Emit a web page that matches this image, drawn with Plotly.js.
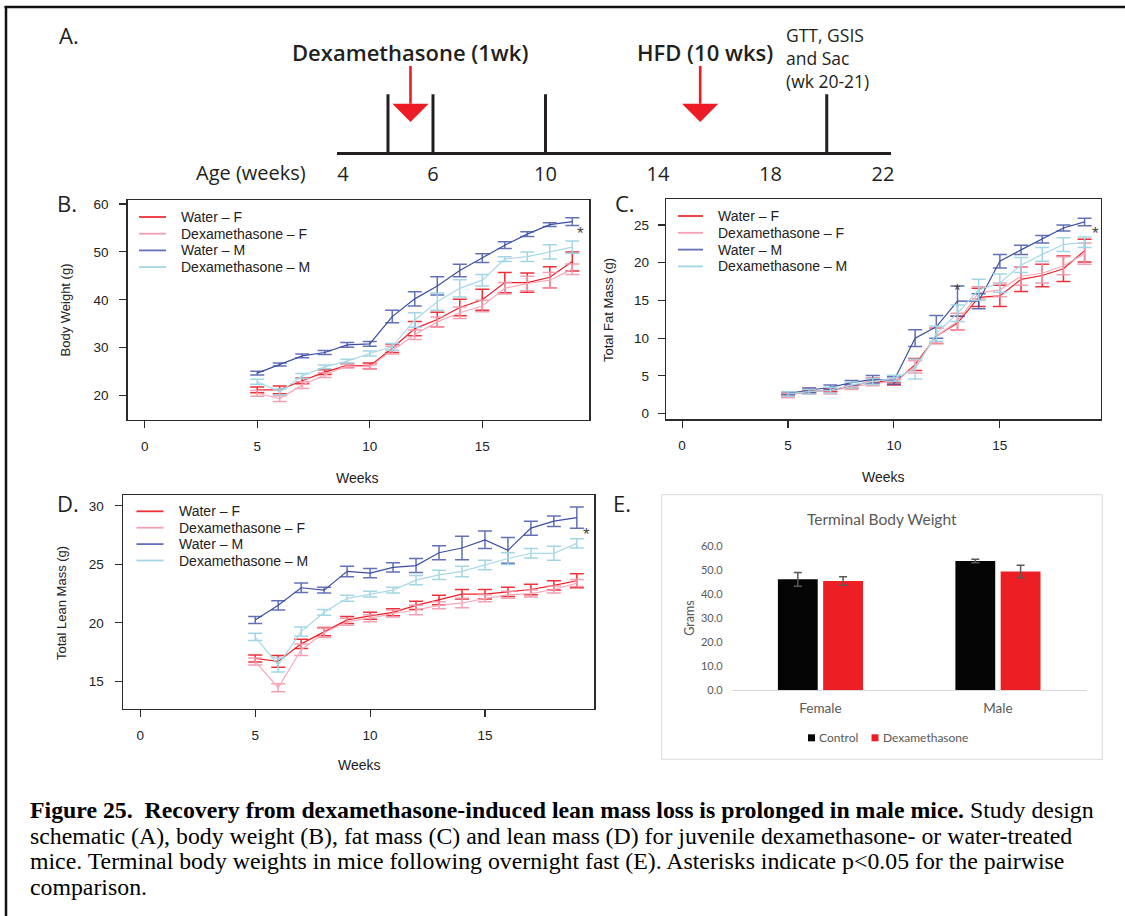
<!DOCTYPE html>
<html><head><meta charset="utf-8">
<script src="https://cdn.plot.ly/plotly-3.0.1.min.js"></script>
<style>html,body{margin:0;padding:0;background:#fff}</style>
</head><body><div id="chart" style="width:1125px;height:916px"></div>
<script>
// ---------------- DATA ----------------
const weeks = [5,6,7,8,9,10,11,12,13,14,15,16,17,18,19];
const seriesNames = ['Water – F','Dexamethasone – F','Water – M','Dexamethasone – M'];

// Panel B: body weight (g)
const bwWaterF    = [21.2,21.2,23.1,24.9,26.3,26.2,29.9,34.0,35.9,38.4,40.0,43.6,43.6,44.7,48.0];
const bwWaterFErr = [0.6,0.8,0.6,0.5,0.4,0.6,0.9,1.5,1.5,1.7,2.2,2.1,2.0,2.2,2.0];
const bwDexF      = [20.5,19.4,22.2,24.3,26.2,26.0,29.5,32.7,35.4,37.3,38.7,42.4,43.4,44.1,46.4];
const bwDexFErr   = [0.6,0.6,0.7,0.5,0.4,0.4,0.8,1.0,1.0,1.2,1.2,1.2,1.5,1.6,1.1];
const bwWaterM    = [24.7,26.5,28.3,29.0,30.6,30.8,36.5,40.2,42.9,46.1,48.7,51.4,53.7,55.7,56.3];
const bwWaterMErr = [0.4,0.3,0.4,0.4,0.5,0.5,1.3,1.5,1.9,1.3,0.9,0.7,0.5,0.4,0.8];
const bwDexM      = [22.9,20.8,24.1,26.0,27.2,28.8,30.2,35.8,39.6,42.4,44.1,48.5,49.0,50.0,51.0];
const bwDexMErr   = [0.5,0.6,0.5,0.4,0.4,0.5,0.7,1.5,1.8,1.8,1.2,0.5,1.0,1.5,1.3];

// Panel C: total fat mass (g)
const fmWaterF    = [2.5,2.9,3.1,3.6,4.4,4.0,6.5,10.3,12.0,15.4,15.6,17.8,18.3,19.2,21.6];
const fmWaterFErr = [0.2,0.2,0.2,0.2,0.3,0.2,0.8,1.0,0.9,1.2,1.4,1.6,1.5,1.7,1.5];
const fmDexF      = [2.4,3.0,3.0,3.5,4.0,4.25,6.2,10.3,12.2,16.0,16.4,18.2,18.6,19.6,21.2];
const fmDexFErr   = [0.3,0.4,0.4,0.3,0.3,0.3,0.8,1.0,1.1,0.8,0.9,1.2,1.3,1.2,1.4];
const fmWaterM    = [2.7,3.1,3.5,4.1,4.55,4.4,10.0,11.5,14.9,14.9,20.2,21.7,23.1,24.6,25.4];
const fmWaterMErr = [0.2,0.3,0.3,0.3,0.5,0.5,1.1,1.5,2.0,1.0,0.9,0.6,0.5,0.4,0.5];
const fmDexM      = [2.6,2.9,3.1,3.8,4.25,4.7,5.9,10.6,13.3,16.4,17.3,19.7,21.1,22.4,22.7];
const fmDexMErr   = [0.3,0.3,0.4,0.4,0.4,0.4,1.3,1.0,1.1,1.4,1.2,1.0,0.9,0.9,0.7];

// Panel D: total lean mass (g)
const lmWaterF    = [16.95,16.7,18.2,19.25,20.25,20.6,20.9,21.5,21.95,22.45,22.45,22.65,22.85,23.2,23.6];
const lmWaterFErr = [0.3,0.5,0.4,0.35,0.3,0.3,0.3,0.35,0.4,0.4,0.4,0.4,0.45,0.4,0.6];
const lmDexF      = [16.7,14.45,17.7,19.15,20.1,20.4,20.8,21.1,21.5,21.7,22.1,22.4,22.5,22.85,23.4];
const lmDexFErr   = [0.3,0.35,0.5,0.4,0.3,0.3,0.3,0.4,0.3,0.4,0.3,0.3,0.3,0.3,0.3];
const lmWaterM    = [20.25,21.5,23.0,22.8,24.4,24.25,24.75,24.9,26.0,26.4,27.1,26.2,28.1,28.7,29.0];
const lmWaterMErr = [0.3,0.4,0.4,0.25,0.45,0.4,0.4,0.6,0.6,1.0,0.75,1.1,0.6,0.45,0.9];
const lmDexM      = [18.8,16.4,19.25,20.9,22.1,22.45,22.8,23.65,24.1,24.4,24.95,25.5,25.95,25.95,26.8];
const lmDexMErr   = [0.3,0.6,0.4,0.25,0.25,0.25,0.25,0.4,0.4,0.45,0.4,0.5,0.4,0.6,0.4];

// Significance asterisks (x = week, y = value)
const bwStarX = [19.35], bwStarY = [53.9];
const fmStarX = [13.0, 19.5], fmStarY = [16.3, 23.9];
const lmStarX = [19.43], lmStarY = [27.6];

// Panel E: terminal body weight
const sexes = ['Female','Male'];
const tbwControl = [46.1, 53.75];
const tbwControlErr = [2.85, 0.7];
const tbwDex = [45.4, 49.4];
const tbwDexErr = [1.8, 2.6];
const barNames = ['Control','Dexamethasone'];

// Panel A: timeline schematic
const ageTickLabels = ['4','6','10','14','18','22'];
const ageTickWeeks = [4,6,10,14,18,22];
const eventWeeks = [5,6,10,20];
const arrowWeeks = [5.5,15.5];
const arrowLabels = ['Dexamethasone (1wk)','HFD (10 wks)'];

// ---------------- LAYOUT HELPERS ----------------
const W = 1125, H = 916;
const px = x => x / W;
const py = y => 1 - y / H;
// schematic (not to scale before week 6)
const tl = w => (w >= 6 ? w : 6 - (6 - w) * 1.6);

const lineColors = ['#ee1d23','#f6a9b9','#3c4fa3','#a9d9e8'];
const errColors  = ['rgba(236,20,28,0.88)','rgba(242,150,170,0.9)','rgba(64,82,166,0.82)','rgba(158,212,228,0.95)'];
const ink = '#231f20';
const rFont = 'Liberation Sans, Arial, sans-serif';
const mFont = 'Open Sans, Noto Sans, sans-serif';

const traces = [];
const shapes = [];
const annotations = [];

function ann(o) { annotations.push(Object.assign({xref:'paper', yref:'paper', showarrow:false}, o)); }

// ---- Panel A ----
const tickXs = [], tickYs = [];
eventWeeks.forEach(w => { tickXs.push(tl(w), tl(w), null); tickYs.push(0, 0.67, null); });
traces.push({type:'scatter', mode:'lines', x:tickXs, y:tickYs, xaxis:'x', yaxis:'y',
  line:{color:ink, width:3}, hoverinfo:'skip', showlegend:false});
const shaftX = [], shaftY = [];
arrowWeeks.forEach(w => { shaftX.push(tl(w), tl(w), null); shaftY.push(0.56, 1.0, null); });
traces.push({type:'scatter', mode:'lines', x:shaftX, y:shaftY, xaxis:'x', yaxis:'y',
  line:{color:'#ed1c24', width:2.6}, hoverinfo:'skip', showlegend:false});
arrowWeeks.forEach((w, i) => {
  const c = tl(w), hw = 0.645;
  shapes.push({type:'path', xref:'x', yref:'y', line:{width:0}, fillcolor:'#ed1c24',
    path:`M${c-hw},0.562 L${c+hw},0.562 L${c},0.35 Z`});
});
ann({text:arrowLabels[0], x:px(410), y:py(52), xanchor:'center', yanchor:'middle',
  font:{family:mFont, size:22, color:ink, weight:600}});
ann({text:arrowLabels[1], x:px(704.5), y:py(52), xanchor:'center', yanchor:'middle',
  font:{family:mFont, size:22, color:ink, weight:600}});
ann({text:'GTT, GSIS<br>and Sac<br>(wk 20-21)', x:px(784), y:py(21), xanchor:'left', yanchor:'top', align:'left',
  font:{family:mFont, size:17.5, color:ink}});
ann({text:'Age (weeks)', x:px(308), y:py(172), xanchor:'right', yanchor:'middle',
  font:{family:mFont, size:20, color:ink}});

// ---- Panel labels ----
[['A.',57,35],['B.',55,203],['C.',613,203],['D.',55,503],['E.',611,503]].forEach(p => {
  ann({text:p[0], x:px(p[1]), y:py(p[2]), xanchor:'left', yanchor:'middle', font:{family:mFont, size:22, color:ink}});
});

// ---- R-style panels ----
const panels = [
  {xa:'x2', ya:'y2', vals:[bwWaterF,bwDexF,bwWaterM,bwDexM], errs:[bwWaterFErr,bwDexFErr,bwWaterMErr,bwDexMErr],
   starX:bwStarX, starY:bwStarY, ytitle:'Body Weight (g)', yt:[65.5,310], xt:[357,478],
   leg:{x0:139, x1:166, xt:179, y0:217, dy:16.7}},
  {xa:'x3', ya:'y3', vals:[fmWaterF,fmDexF,fmWaterM,fmDexM], errs:[fmWaterFErr,fmDexFErr,fmWaterMErr,fmDexMErr],
   starX:fmStarX, starY:fmStarY, ytitle:'Total Fat Mass (g)', yt:[609,310], xt:[883,477.5],
   leg:{x0:678, x1:703, xt:716, y0:216, dy:16.8}},
  {xa:'x4', ya:'y4', vals:[lmWaterF,lmDexF,lmWaterM,lmDexM], errs:[lmWaterFErr,lmDexFErr,lmWaterMErr,lmDexMErr],
   starX:lmStarX, starY:lmStarY, ytitle:'Total Lean Mass (g)', yt:[61,603], xt:[359,765],
   leg:{x0:136.5, x1:163.5, xt:177, y0:511.3, dy:16.4}}
];
panels.forEach(p => {
  for (let s = 0; s < 4; s++) {
    traces.push({type:'scatter', mode:'lines', name:seriesNames[s], x:weeks, y:p.vals[s], xaxis:p.xa, yaxis:p.ya,
      line:{color:lineColors[s], width:1.2},
      error_y:{type:'data', array:p.errs[s], visible:true, color:errColors[s], thickness:1.5, width:7},
      hoverinfo:'skip', showlegend:false});
  }
  p.starX.forEach((sx, i) => annotations.push({xref:p.xa, yref:p.ya, x:sx, y:p.starY[i], text:'*', showarrow:false,
    xanchor:'center', yanchor:'middle', font:{family:rFont, size:17, color:'#444'}}));
  ann({text:p.ytitle, x:px(p.yt[0]), y:py(p.yt[1]), textangle:-90, xanchor:'center', yanchor:'middle',
    font:{family:rFont, size:13, color:'#222'}});
  ann({text:'Weeks', x:px(p.xt[0]), y:py(p.xt[1]), xanchor:'center', yanchor:'middle',
    font:{family:rFont, size:14, color:'#222'}});
  seriesNames.forEach((nm, s) => {
    const yy = p.leg.y0 + s * p.leg.dy;
    shapes.push({type:'line', xref:'paper', yref:'paper', x0:px(p.leg.x0), x1:px(p.leg.x1), y0:py(yy), y1:py(yy),
      line:{color:errColors[s], width:1.8}});
    ann({text:nm, x:px(p.leg.xt), y:py(yy), xanchor:'left', yanchor:'middle', font:{family:rFont, size:14, color:'#222'}});
  });
});

// ---- Panel E ----
traces.push({type:'bar', name:barNames[0], x:sexes, y:tbwControl, xaxis:'x5', yaxis:'y5',
  marker:{color:'#050505'}, error_y:{type:'data', array:tbwControlErr, color:'#595959', thickness:1.5, width:4},
  hoverinfo:'skip', showlegend:false});
traces.push({type:'bar', name:barNames[1], x:sexes, y:tbwDex, xaxis:'x5', yaxis:'y5',
  marker:{color:'#ed1f24'}, error_y:{type:'data', array:tbwDexErr, color:'#595959', thickness:1.5, width:4},
  hoverinfo:'skip', showlegend:false});
shapes.push({type:'rect', xref:'paper', yref:'paper', x0:px(661.7), x1:px(1102.3), y0:py(759.3), y1:py(494.7),
  line:{color:'#d9d9d9', width:1}, fillcolor:'rgba(0,0,0,0)'});
const eFont = 'Lato, Open Sans, sans-serif';
ann({text:'Terminal Body Weight', x:px(881.7), y:py(518.5), xanchor:'center', yanchor:'middle',
  font:{family:eFont, size:15.5, color:'#595959'}});
ann({text:'Grams', x:px(689.5), y:py(618.3), textangle:-90, xanchor:'center', yanchor:'middle',
  font:{family:eFont, size:12.5, color:'#595959'}});
const legSw = [[808,'#050505',817],[871.5,'#ed1f24',881]];
barNames.forEach((nm, i) => {
  shapes.push({type:'rect', xref:'paper', yref:'paper', x0:px(legSw[i][0]), x1:px(legSw[i][0]+7),
    y0:py(741.3), y1:py(734.3), line:{width:0}, fillcolor:legSw[i][1]});
  ann({text:nm, x:px(legSw[i][2]), y:py(737.8), xanchor:'left', yanchor:'middle', font:{family:eFont, size:12, color:'#595959'}});
});

// ---- Caption ----
const capFont = {family:'Liberation Serif, Times New Roman, serif', size:23.8, color:'#000'};
const capLines = [
  '<b>Figure 25.\u00a0 Recovery from dexamethasone-induced lean mass loss is prolonged in male mice.</b> Study design',
  'schematic (A), body weight (B), fat mass (C) and lean mass (D) for juvenile dexamethasone- or water-treated',
  'mice. Terminal body weights in mice following overnight fast (E). Asterisks indicate p&lt;0.05 for the pairwise',
  'comparison.'
];
const capY = [810, 835.5, 861, 886.5];
capLines.forEach((t, i) => ann({text:t, x:px(28), y:py(capY[i]), xanchor:'left', yanchor:'middle', font:capFont}));

// ---- Outer frame ----
shapes.push({type:'line', xref:'paper', yref:'paper', x0:px(4.5), x1:1, y0:py(7), y1:py(7), line:{color:'#111', width:2.5}});
shapes.push({type:'line', xref:'paper', yref:'paper', x0:px(6), x1:px(6), y0:py(6), y1:0, line:{color:'#111', width:2.5}});

// ---------------- AXES ----------------
function rX(l, r, anchor) {
  return {domain:[px(l), px(r)], range:[-0.76, 19.76], anchor, showline:true, mirror:true, linecolor:'#2b2b2b', linewidth:1.3,
    ticks:'outside', ticklen:7, tickwidth:1.1, tickcolor:'#2b2b2b', tickvals:[0,5,10,15], showgrid:false, zeroline:false,
    tickfont:{family:rFont, size:13.5, color:'#222'}, ticklabelstandoff:6, fixedrange:true};
}
function rY(b, t, range, dtick, anchor, standoff) {
  return {domain:[py(b), py(t)], range, anchor, dtick, tick0:0, showline:true, mirror:true, linecolor:'#2b2b2b', linewidth:1.3,
    ticks:'outside', ticklen:7, tickwidth:1.1, tickcolor:'#2b2b2b', showgrid:false, zeroline:false,
    tickfont:{family:rFont, size:13.5, color:'#222'}, ticklabelstandoff:standoff, fixedrange:true};
}

const layout = {
  width:W, height:H, margin:{l:0, r:0, t:0, b:0}, paper_bgcolor:'#fff', plot_bgcolor:'rgba(0,0,0,0)',
  showlegend:false, barmode:'group', bargap:0.49, bargroupgap:0.12,
  xaxis:{domain:[px(337), px(890.7)], range:[tl(4)-0.213, 22.274], anchor:'y', showline:true, linewidth:3, linecolor:ink,
    ticks:'', tickvals:ageTickWeeks.map(tl), ticktext:ageTickLabels, showgrid:false, zeroline:false,
    tickfont:{family:mFont, size:20, color:ink}, ticklabelstandoff:2, fixedrange:true},
  yaxis:{domain:[py(152.3), py(65.7)], range:[0,1], anchor:'x', visible:false, fixedrange:true},
  xaxis2:rX(127.6, 589.4, 'y2'),
  yaxis2:rY(420, 200, [14.92, 60.83], 10, 'x2', 8),
  xaxis3:rX(666, 1100.7, 'y3'),
  yaxis3:rY(419.3, 199.3, [-0.75, 28.4], 5, 'x3', 6),
  xaxis4:rX(122.9, 594.3, 'y4'),
  yaxis4:rY(709, 495.3, [12.63, 30.91], 5, 'x4', 8),
  xaxis5:{domain:[px(731.7), px(1086.7)], anchor:'y5', type:'category', showline:true, linecolor:'#d9d9d9', linewidth:1,
    ticks:'', showgrid:false, zeroline:false, tickfont:{family:eFont, size:13.5, color:'#595959'}, ticklabelstandoff:6, fixedrange:true},
  yaxis5:{domain:[py(690), py(546)], range:[0,60], anchor:'x5', dtick:10, tickformat:'.1f', showline:false, showgrid:false,
    zeroline:false, ticks:'', tickfont:{family:eFont, size:11, color:'#595959'}, ticklabelstandoff:8, fixedrange:true},
  shapes, annotations
};

Plotly.newPlot('chart', traces, layout, {staticPlot:true, displayModeBar:false});
</script>
</body></html>
